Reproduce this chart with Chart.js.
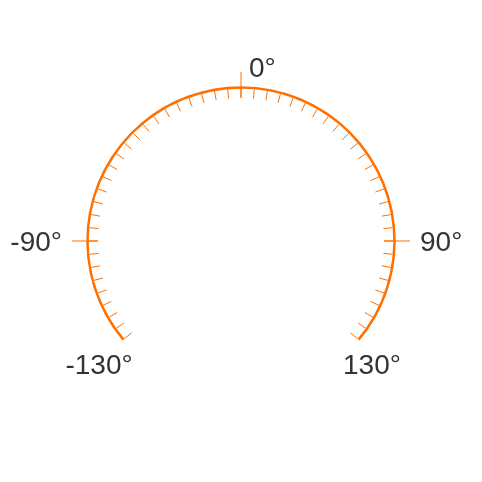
<!DOCTYPE html>
<html>
<head>
<meta charset="utf-8">
<script src="https://cdn.jsdelivr.net/npm/chart.js@4/dist/chart.umd.min.js"></script>
<style>
  html, body { margin: 0; padding: 0; background: #ffffff; }
  #wrap { width: 482px; height: 482px; }
</style>
</head>
<body>
<div id="wrap"><canvas id="c" width="482" height="482"></canvas></div>
<script>
// ---- data ----
const gaugeMin = -130;          // degrees
const gaugeMax = 130;           // degrees
const minorTickStep = 5;        // degrees between small ticks
const longTickValues = [-90, 0, 90];
const labelValues = [-130, -90, 0, 90, 130];
const labelTexts = ['-130°', '-90°', '0°', '90°', '130°'];

// ---- styles ----
const ORANGE = 'rgb(255,112,0)';
const TEXT = '#333333';
const FONT = '28px "Liberation Sans", Arial, sans-serif';

const gaugeTicks = {
  id: 'gaugeTicks',
  afterDatasetsDraw(chart) {
    const arc = chart.getDatasetMeta(0).data[0];
    if (!arc) return;
    const {x, y, startAngle, endAngle, innerRadius, outerRadius} = arc.getProps(
      ['x', 'y', 'startAngle', 'endAngle', 'innerRadius', 'outerRadius'], true);
    const mid = (innerRadius + outerRadius) / 2;
    const toAngle = v => startAngle + (v - gaugeMin) / (gaugeMax - gaugeMin) * (endAngle - startAngle);
    const pt = (a, r) => ({x: x + Math.cos(a) * r, y: y + Math.sin(a) * r});
    const ctx = chart.ctx;
    ctx.save();
    ctx.strokeStyle = ORANGE;
    ctx.lineWidth = 1;
    ctx.lineCap = 'butt';
    const tickIn = mid - 10.5;
    // minor ticks
    for (let v = gaugeMin; v <= gaugeMax + 1e-9; v += minorTickStep) {
      const a = toAngle(v);
      const p1 = pt(a, innerRadius), p2 = pt(a, tickIn);
      ctx.beginPath(); ctx.moveTo(p1.x, p1.y); ctx.lineTo(p2.x, p2.y); ctx.stroke();
    }
    // long ticks
    const longOut = mid + 15.5;
    longTickValues.forEach(v => {
      const a = toAngle(v);
      const p1 = pt(a, tickIn), p2 = pt(a, longOut);
      ctx.beginPath(); ctx.moveTo(p1.x, p1.y); ctx.lineTo(p2.x, p2.y); ctx.stroke();
    });
    // labels
    ctx.fillStyle = TEXT;
    ctx.font = FONT;
    const minusW = ctx.measureText('-').width;
    labelValues.forEach((v, i) => {
      const a = toAngle(v);
      const e = pt(a, longOut);
      const dy = Math.sin(a);
      const txt = labelTexts[i];
      if (dy < -0.7) { // top
        ctx.textAlign = 'left';
        ctx.textBaseline = 'alphabetic';
        ctx.fillText(txt, e.x + 8, e.y + 5);
      } else if (dy > 0.3) { // bottom
        ctx.textAlign = 'center';
        ctx.textBaseline = 'middle';
        ctx.fillText(txt, e.x + (v < 0 ? -1.5 * minusW : 0) + 1.5, e.y + 16.5);
      } else { // sides
        const right = Math.cos(a) > 0;
        ctx.textAlign = right ? 'left' : 'right';
        ctx.textBaseline = 'middle';
        ctx.fillText(txt, e.x + (right ? 10 : -10), e.y + 2);
      }
    });
    ctx.restore();
  }
};

const outerR = 154.75;
const innerR = 152.25;

new Chart(document.getElementById('c'), {
  type: 'doughnut',
  data: {
    labels: ['gauge'],
    datasets: [{
      data: [gaugeMax - gaugeMin],
      backgroundColor: ORANGE,
      borderWidth: 0,
      hoverOffset: 0
    }]
  },
  options: {
    responsive: false,
    animation: false,
    devicePixelRatio: 1,
    rotation: gaugeMin,
    circumference: gaugeMax - gaugeMin,
    radius: outerR,
    cutout: (innerR / outerR * 100) + '%',
    layout: { padding: { top: 0, left: 0, right: 0, bottom: 55.3 } },
    plugins: { legend: { display: false }, tooltip: { enabled: false } },
    events: []
  },
  plugins: [gaugeTicks]
});
</script>
</body>
</html>
